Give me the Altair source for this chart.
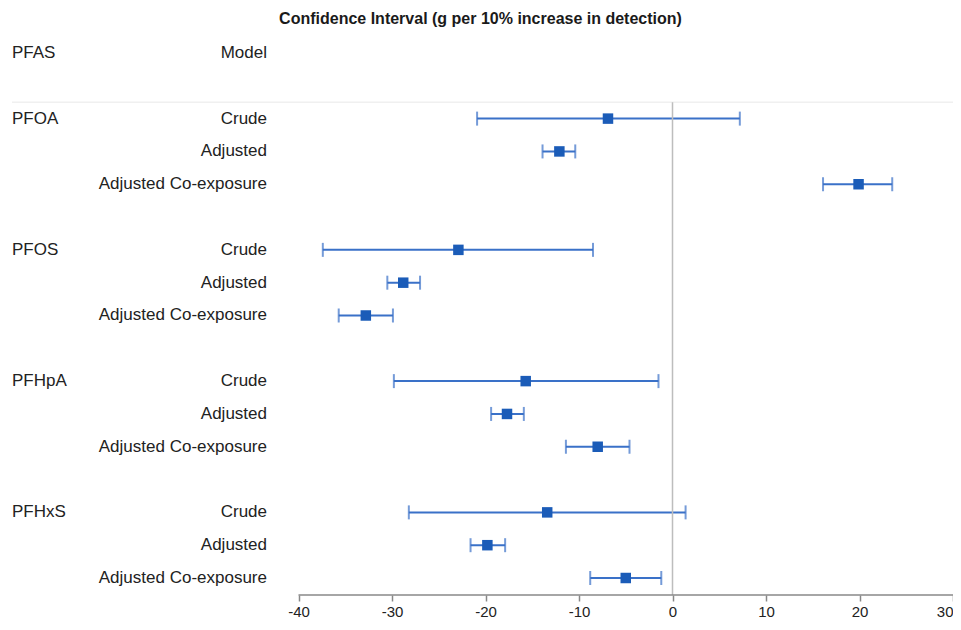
import altair as alt
import pandas as pd

# ---- data ----
pfas = ["PFOA", "PFOS", "PFHpA", "PFHxS"]
models = ["Crude", "Adjusted", "Adjusted Co-exposure"]
estimate = [-6.9, -12.1, 19.9, -22.9, -28.8, -32.8, -15.7, -17.7, -8.0, -13.4, -19.8, -5.0]
lower = [-20.9, -13.9, 16.1, -37.4, -30.5, -35.7, -29.8, -19.4, -11.4, -28.2, -21.6, -8.8]
upper = [7.2, -10.4, 23.5, -8.5, -27.0, -29.9, -1.5, -15.9, -4.6, 1.4, -17.9, -1.2]
tick_values = [-40, -30, -20, -10, 0, 10, 20, 30]
title_text = "Confidence Interval (g per 10% increase in detection)"
header_left = "PFAS"
header_right = "Model"

# ---- tables ----
rows = []
for g, p in enumerate(pfas):
    for m, mod in enumerate(models):
        i = g * 3 + m
        rows.append({
            "pfas": p if m == 0 else "",
            "model": mod,
            "row": 2 + 4 * g + m,
            "est": estimate[i],
            "lo": lower[i],
            "hi": upper[i],
        })
df = pd.DataFrame(rows)
hdr = pd.DataFrame([{"pfas": header_left, "model": header_right, "row": 0}])
labels = pd.concat([hdr, df[["pfas", "model", "row"]]], ignore_index=True)

W, H = 945, 564
PAD_TOP, PAD_BOTTOM = 23, 25
XMIN, XMAX = -71.07, 30
YMIN, YMAX = -0.67, 16.518
FONT = "Liberation Sans"
LINE = "#3a71c8"
SQ = "#1b5cb8"

xs = alt.Scale(domain=[XMIN, XMAX], nice=False, zero=False, padding=0)
ys = alt.Scale(domain=[YMIN, YMAX], nice=False, zero=False, reverse=True, padding=0)

base = alt.Chart(df)

xaxis = alt.Axis(values=tick_values, domain=False, grid=False, tickSize=6,
                 tickColor="#888888", tickWidth=1.5, labelFontSize=15, labelFont=FONT,
                 labelColor="#222222", labelPadding=3, title=None, labelFlush=2,
                 labelExpr="datum.value + ''")

bars = base.mark_rule(color=LINE, strokeWidth=2).encode(
    x=alt.X("lo:Q", scale=xs, axis=xaxis),
    x2="hi:Q",
    y=alt.Y("row:Q", scale=ys, axis=None),
)
cap_lo = base.mark_tick(color=LINE, orient="vertical", size=14, thickness=2).encode(
    x=alt.X("lo:Q"), y=alt.Y("row:Q"))
cap_hi = base.mark_tick(color=LINE, orient="vertical", size=14, thickness=2).encode(
    x=alt.X("hi:Q"), y=alt.Y("row:Q"))
pts = base.mark_square(color=SQ, size=110, opacity=1).encode(
    x=alt.X("est:Q"), y=alt.Y("row:Q"))

zero = alt.Chart(pd.DataFrame({"lo": [0], "row": [1.5]})).mark_rule(
    color="#bdbdbd", strokeWidth=1.5).encode(
    x=alt.X("lo:Q"),
    y=alt.Y("row:Q"),
    y2=alt.value(H),
)
sep = alt.Chart(pd.DataFrame({"row": [1.5]})).mark_rule(color="#f0f0f0", strokeWidth=1.5).encode(
    y=alt.Y("row:Q"),
    x=alt.value(4),
    x2=alt.value(W),
)
axis_line = alt.Chart(pd.DataFrame({"lo": [tick_values[0]], "hi": [tick_values[-1]]})).mark_rule(
    color="#888888", strokeWidth=1.5).encode(
    x=alt.X("lo:Q"),
    x2="hi:Q",
    y=alt.value(H),
)

lab_left = alt.Chart(labels).mark_text(align="left", baseline="middle", font=FONT,
                                       fontSize=17, color="#222222").encode(
    x=alt.value(4), y=alt.Y("row:Q"), text="pfas:N")
lab_right = alt.Chart(labels).mark_text(align="right", baseline="middle", font=FONT,
                                        fontSize=17, color="#222222").encode(
    x=alt.value(259), y=alt.Y("row:Q"), text="model:N")

chart = alt.layer(bars, sep, zero, axis_line, cap_lo, cap_hi, pts, lab_left, lab_right).properties(
    width=W, height=H,
    autosize=alt.AutoSizeParams(type="none"),
    padding={"left": 0, "right": 0, "top": PAD_TOP, "bottom": PAD_BOTTOM},
    background="white",
    title=alt.TitleParams(title_text, fontSize=16, fontWeight="bold", font=FONT,
                          anchor="middle", color="#1a1a1a", offset=4),
).configure_view(stroke=None)

chart.save("out.html", embed_options={"renderer": "svg", "actions": False})
